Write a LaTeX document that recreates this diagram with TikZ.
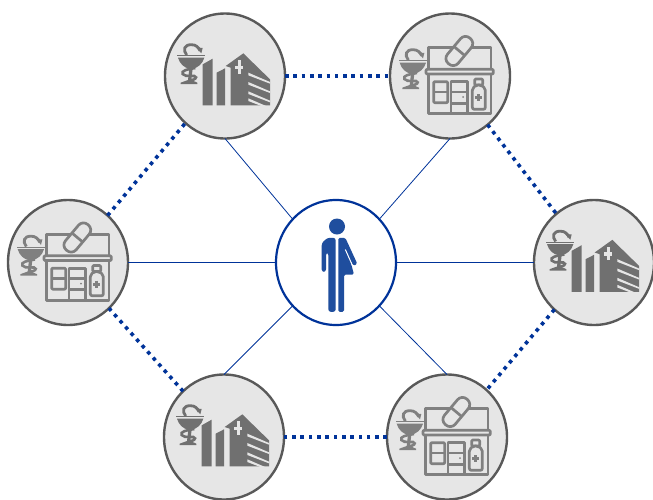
\documentclass[tikz,border=0pt]{standalone}
\usetikzlibrary{shapes.geometric}
\definecolor{disc}{HTML}{E6E6E6}
\definecolor{rim}{HTML}{595959}
\definecolor{navy}{HTML}{003399}
\definecolor{person}{HTML}{1F4E9E}
\definecolor{bldg}{HTML}{707070}
\definecolor{shop}{HTML}{808080}
\newcommand{\bowlmark}[3]{%
  \begin{scope}[shift={(#1,#2)}]
    \fill[#3] (0,-3) -- (83,-3) -- (83,1) -- (0,1) -- cycle;
    \fill[#3] (2,5) -- (81,5) .. controls (76,24) and (60,36) .. (46,38) -- (42,72) -- (60,80) -- (60,84) -- (10,84) -- (10,80) -- (32,72) -- (36,38) .. controls (22,36) and (7,24) .. (2,5) -- cycle;
    \draw[#3,line width=2.8pt] (28,-3) .. controls (16,-18) and (20,-34) .. (42,-34) .. controls (56,-34) and (64,-26) .. (68,-16);
    \fill[#3] (56,-26) -- (76,-24) -- (72,-8) -- cycle;
    \draw[#3,line width=2.6pt] (54,36) .. controls (30,40) and (10,44) .. (16,54) .. controls (24,66) and (56,54) .. (56,64) .. controls (56,70) and (44,72) .. (36,74);
  \end{scope}}
\tikzset{
  site/.style={ellipse,draw=rim,fill=disc,line width=2.4pt,minimum width=120pt,minimum height=125pt,inner sep=0pt,outer sep=0pt},
  hub/.style={ellipse,draw=navy,fill=white,line width=2.2pt,minimum width=120pt,minimum height=125pt,inner sep=0pt,outer sep=0pt},
  spoke/.style={navy,line width=0.8pt},
  chain/.style={navy,line width=3.6pt,dash pattern=on 3.6pt off 4.7pt},
  hospitalicon/.pic={
    \begin{scope}[shift={(-195,-195)}]
    \bowlmark{52}{135}{bldg}
    \fill[bldg] (128,160) -- (158,143) -- (158,283) -- (128,283) -- cycle;
    \fill[bldg] (170,185) -- (195,172) -- (195,283) -- (170,283) -- cycle;
    \fill[bldg] (197,165) -- (250,127) -- (330,205) -- (330,283) -- (212,283) -- (212,170) -- cycle;
    \fill[disc] (226,164) rectangle (249,174);
    \fill[disc] (233,148) rectangle (242,188);
    \foreach \a in {185,213,241,262}{
      \fill[disc] (265,\a) -- (330,\a+28) -- (330,\a+33) -- (265,\a+8) -- cycle;
    }
    \end{scope}
  },
  pharmacyicon/.pic={
    \begin{scope}[shift={(-195,-195)}]
    \bowlmark{42}{150}{shop}
    \begin{scope}[shop,line width=2.7pt,line join=round]
      \draw (130,175) -- (130,110) -- (318,110) -- (318,175);
      \draw[fill=disc,rounded corners=1pt] (123,175) rectangle (325,189);
      \draw (130,189) -- (130,308) -- (318,308) -- (318,189);
      \draw[rounded corners=1pt] (146,212) rectangle (188,275);
      \draw (146,243) -- (188,243);
      \draw (198,308) -- (198,212) -- (248,212) -- (248,308);
      \draw (198,243) -- (248,243);
      \draw (198,277) -- (248,277);
      \fill (234,258) circle (3);
      \draw[fill=disc,rounded corners=1pt] (269,204) rectangle (293,222);
      \draw[fill=disc,rounded corners=2pt] (262,232) -- (274,222) -- (288,222) -- (301,232) -- (301,295) -- (262,295) -- cycle;
      \draw (281,249) -- (281,271);
      \draw (270,260) -- (292,260);
      \begin{scope}[shift={(223,120)},rotate=50]
        \draw[fill=disc,rounded corners=6.5pt] (-50,-21) rectangle (50,21);
        \draw (0,-21) -- (0,21);
      \end{scope}
    \end{scope}
    \end{scope}
  },
  figureicon/.pic={
    \begin{scope}[shift={(-198,-204)}]
    \fill[person] (201,96) circle (24);
    \fill[person,rounded corners=2.5pt] (197,130) -- (172,130) -- (155,146) -- (155,232) -- (168,232) -- (168,175) -- (175,175) -- (175,352) -- (197,352) -- cycle;
    \fill[person,rounded corners=1.5pt] (205,130) -- (226,130) -- (262,208) -- (250,214) -- (240,195) -- (252,240) -- (222,240) -- (222,352) -- (205,352) -- cycle;
    \draw[white,line width=1pt] (226,165) -- (247,212);
    \end{scope}
  }
}
\begin{document}
\begin{tikzpicture}[x=1pt,y=-1pt]
\useasboundingbox (0,0) rectangle (653,499);
\node[hub]  (c) at (336,262.5) {};
\node[site] (a) at (225,76) {};
\node[site] (b) at (450,76) {};
\node[site] (d) at (594,262.5) {};
\node[site] (e) at (447,437) {};
\node[site] (f) at (224,437) {};
\node[site] (g) at (68,262.5) {};
\draw[spoke] (c.135) -- (a.south);
\draw[spoke] (c.45) -- (b.south);
\draw[spoke] (c.east) -- (d.west);
\draw[spoke] (c.-45) -- (e.north);
\draw[spoke] (c.-135) -- (f.north);
\draw[spoke] (c.west) -- (g.east);
\draw[chain] (a) -- (b);
\draw[chain] (b) -- (d);
\draw[chain] (d) -- (e);
\draw[chain] (e) -- (f);
\draw[chain] (f) -- (g);
\draw[chain] (g) -- (a);
\pic[scale=1/3] at (a) {hospitalicon};
\pic[scale=1/3] at (d) {hospitalicon};
\pic[scale=1/3] at (f) {hospitalicon};
\pic[scale=1/3] at (b) {pharmacyicon};
\pic[scale=1/3] at (e) {pharmacyicon};
\pic[scale=1/3] at (g) {pharmacyicon};
\pic[scale=1/3] at (c) {figureicon};
\end{tikzpicture}
\end{document}
